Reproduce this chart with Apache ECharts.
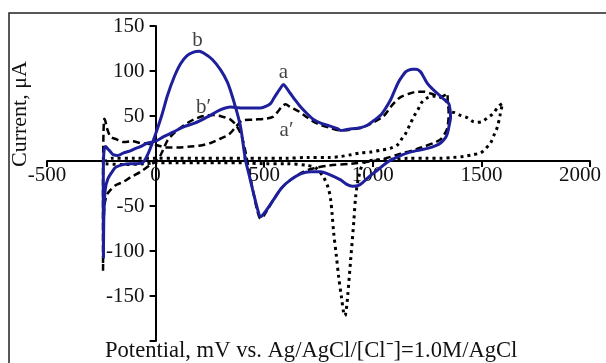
<!DOCTYPE html>
<html><head><meta charset="utf-8">
<script src="https://cdn.jsdelivr.net/npm/echarts@6/dist/echarts.min.js"></script>
<style>html,body{margin:0;padding:0;background:#fff}#c{width:606px;height:363px}</style>
</head><body><div id="c"></div>
<script>
// Axis ticks
var xTicks = [-500, 0, 500, 1000, 1500, 2000];
var yTicks = [-150, -100, -50, 0, 50, 100, 150];

// Curve a/b (solid blue): potential (mV) and current (µA), traced in order around the loop
var blueE = [-240,-238,-232,-220,-200,-184,-150,-120,-90,-60,-35,-15,0,30,55,85,115,145,175,200,221,260,300,330,345,370,391,414,430,447,470,483,500,543,580,621,670,714,760,790,852,880,907,935,958,990,1022,1068,1100,1160,1210,1252,1290,1312,1335,1344,1352,1358,1355,1349,
  1320,1298,1275,1252,1235,1220,1200,1183,1165,1151,1135,1119,1100,1082,1060,1036,1005,976,944,912,880,852,838,800,760,727,700,668,645,621,600,589,575,561,545,530,510,483,440,391,345,300,239,180,129,80,37,0,-37,-70,-92,-120,-147,-175,-195,-207,-222,-230,-236,-240,-241,-240];
var blueI = [-108,-60,-32,-20,-12,-7,-4,-3,-3,-2,8,20,30,52,73,93,108,117,121,122,120,113,101,88,78,58,38,1,-15,-32,-54,-62,-58,-43,-30,-21,-14,-12,-12,-14,-21,-26,-28,-27,-23,-16,-10,-1,3,9,12,14,17,20,26,31,40,49,58,64,
  70,75,80,86,93,99,102,102,101,99,94,88,78,68,59,51,45,40,37,36,35,34,36,39,42,46,52,60,67,75,82,85,81,76,70,64,61,59,59,59,60,57,49,42,38,32,27,22,20,16,14,11,9,6,7,10,14,16,14,0,-50,-108];

// Curve a′/b′ (dashed black)
var dashE = [-242,-240,-236,-225,-207,-184,-147,-115,-69,-23,9,30,55,85,115,145,175,220,267,310,345,370,391,405,414,430,450,468,483,500,543,580,621,680,730,800,900,1004,1060,1128,1200,1234,1280,1312,1335,1344,1349,1349,1345,1344,
  1330,1312,1290,1266,1235,1206,1170,1128,1100,1082,1050,1004,960,900,852,800,740,700,660,620,598,580,560,540,510,450,400,370,340,300,253,200,161,100,50,0,-30,-69,-110,-147,-180,-207,-222,-232,-236,-240,-242,-242];
var dashI = [-122,-80,-51,-38,-32,-27,-23,-18,-12,-4,1,10,23,31,37,42,46,50,51,49,46,40,31,20,10,-10,-35,-55,-64,-60,-43,-30,-21,-12,-8,-5,-3,0,3,8,13,16,20,24,32,38,50,57,66,75,
  73,71,73,75,77,77,75,71,65,60,50,43,38,35,34,37,42,48,55,60,63,60,54,49,47,46,45,38,30,25,20,17,16,15,15,18,19,20,22,21,24,27,35,45,47,30,-20,-122];

// Third scan (dotted black)
var dotE = [-230,-150,-50,0,100,200,300,400,500,600,700,740,773,795,806,813,820,832,843,855,866,872,878,884,898,912,921,935,958,1004,1100,1160,1250,1312,1370,1418,1460,1496,1520,1542,1560,1574,1585,1597,
  1585,1574,1550,1528,1505,1482,1460,1436,1400,1372,1358,1340,1310,1280,1250,1225,1210,1190,1170,1150,1137,1114,1080,1036,990,944,900,852,800,700,600,500,400,300,200,100,0,-100,-200,-230];
var dotI = [-3,-4,-3,-2,-2,-2,-2,-2,-3,-3,-5,-8,-18,-30,-43,-60,-80,-105,-129,-150,-169,-172,-165,-151,-110,-69,-40,-18,-2,1,2,3,3,3,4,5,7,9,14,20,30,38,50,64,
  62,59,52,48,44,43,44,48,51,54,55,66,71,72,70,65,58,50,40,30,26,18,14,12,10,9,7,5,4,4,3,3,3,3,3,3,3,3,3,0];

// Curve labels
var labText = ['b', 'a', 'b\u2032', 'a\u2032'];
var labE = [193, 589, 221, 603];
var labI = [134, 98, 60, 34];

function pairs(xs, ys){ return xs.map(function(v,i){ return [v, ys[i]]; }); }

var serif = 'Liberation Serif';
var W = 606, H = 363;
var gL = 47, gR = 16, gT = 26, gB = 22;
var xMin = -500, xMax = 2000, yMin = -200, yMax = 150;
// offsets that bring each axis onto the other's zero line
var xOff = -((0 - yMin) / (yMax - yMin)) * (H - gT - gB);
var yOff = -((0 - xMin) / (xMax - xMin)) * (W - gL - gR);

var chart = echarts.init(document.getElementById('c'), null, {renderer:'canvas'});
chart.setOption({
  animation: false,
  backgroundColor: '#fff',
  grid: {left: gL, right: gR, top: gT, bottom: gB, containLabel: false, outerBoundsMode: 'none'},
  xAxis: {
    type: 'value', min: xMin, max: xMax, interval: 500, position: 'bottom', offset: xOff,
    axisLine: {onZero: false, lineStyle: {color: '#000', width: 2}},
    axisTick: {show: true, length: 6, inside: false, lineStyle: {color: '#000', width: 2}},
    axisLabel: {margin: 4, color: '#111', fontFamily: serif, fontSize: 21, hideOverlap: false,
      rich: {last: {fontFamily: serif, fontSize: 21, color: '#111', padding: [0, 20, 0, 0]}},
      formatter: function(v){
        if (xTicks.indexOf(v) < 0) return '';
        return v === xMax ? '{last|' + v + '}' : String(v);
      }},
    splitLine: {show: false}
  },
  yAxis: {
    type: 'value', min: yMin, max: yMax, interval: 50, position: 'left', offset: yOff,
    axisLine: {onZero: false, lineStyle: {color: '#000', width: 2}},
    axisTick: {show: true, length: 6, lineStyle: {color: '#000', width: 2}},
    axisLabel: {margin: 11, color: '#111', fontFamily: serif, fontSize: 21,
      formatter: function(v){ return (v !== 0 && yTicks.indexOf(v) >= 0) ? String(v) : ''; }},
    splitLine: {show: false}
  },
  graphic: [
    {type: 'rect', shape: {x: 9, y: 13, width: 620, height: 380}, style: {fill: 'none', stroke: '#222', lineWidth: 1.5}, silent: true},
    {type: 'text', x: 105, y: 340, style: {text: 'Potential, mV vs. Ag/AgCl/[Cl\u207B]=1.0M/AgCl', fontFamily: serif, fontSize: 22.6, fill: '#111'}},
    {type: 'text', x: 9, y: 167, rotation: Math.PI/2, style: {text: 'Current, \u03BCA', fontFamily: serif, fontSize: 22, fill: '#111'}}
  ],
  series: [
    {type: 'line', name: 'dotted', data: pairs(dotE, dotI), showSymbol: false, smooth: 0.3,
      lineStyle: {color: '#000', width: 3, type: [3, 4], cap: 'butt'}},
    {type: 'line', name: 'dashed', data: pairs(dashE, dashI), showSymbol: false, smooth: 0.3,
      lineStyle: {color: '#000', width: 2.5, type: [7, 4]}},
    {type: 'line', name: 'solid', data: pairs(blueE, blueI), showSymbol: false, smooth: 0.3,
      lineStyle: {color: '#1e1f9a', width: 3}},
    {type: 'scatter', data: pairs(labE, labI), symbolSize: 0,
      label: {show: true, position: 'inside', fontFamily: serif, fontSize: 21, color: '#111',
        formatter: function(p){ return labText[p.dataIndex]; }}}
  ]
});
</script>
</body></html>
